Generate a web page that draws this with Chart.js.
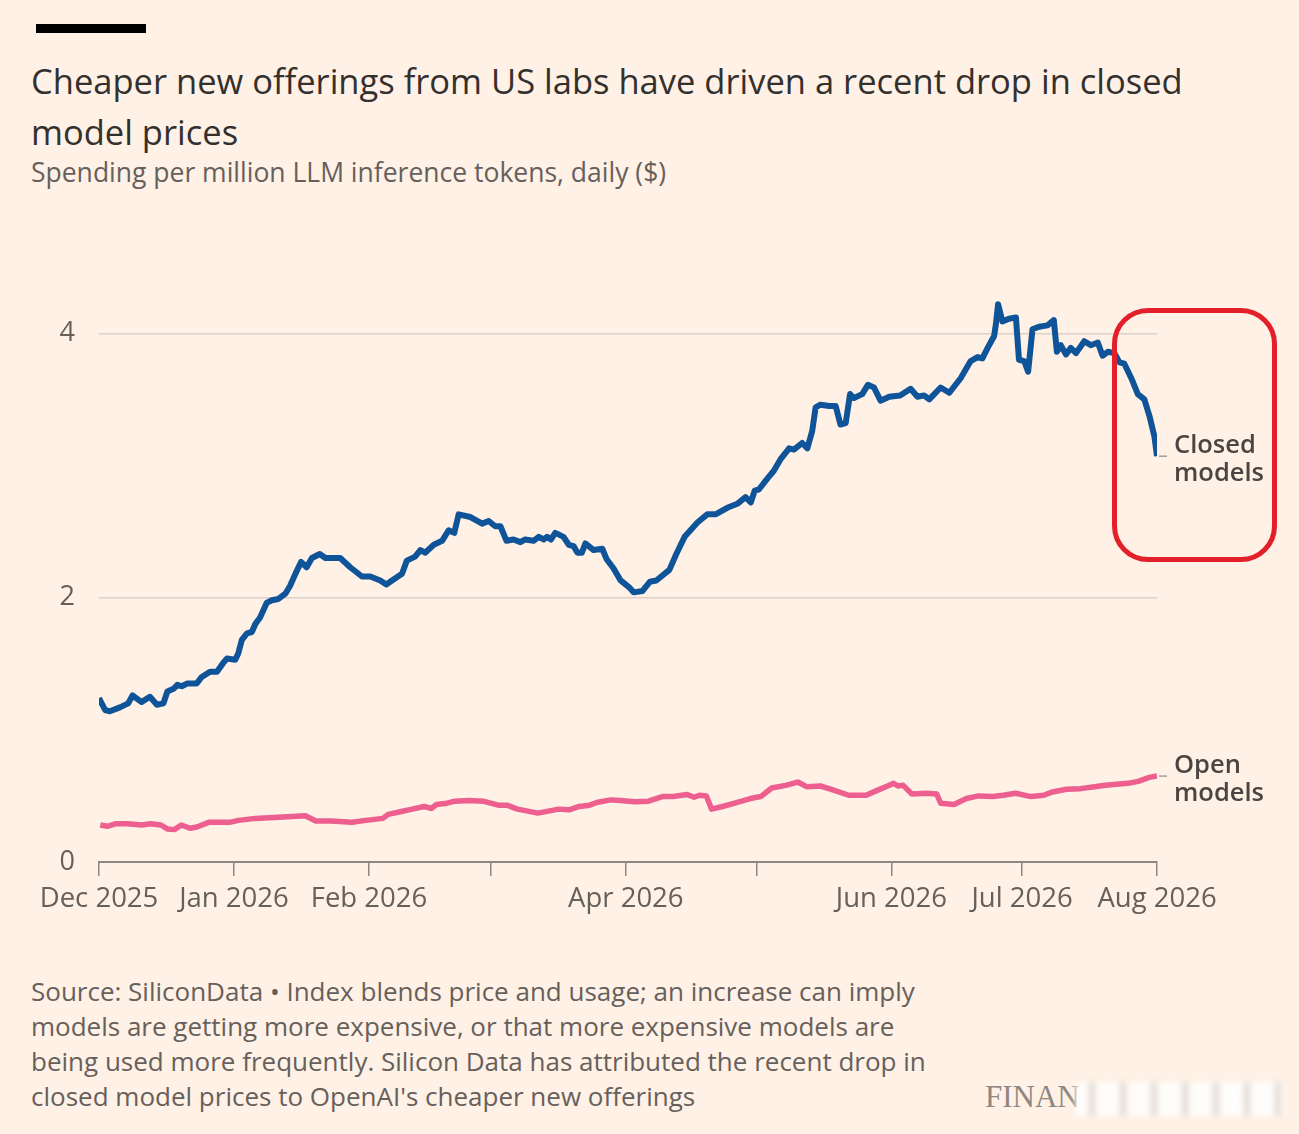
<!DOCTYPE html>
<html>
<head>
<meta charset="utf-8">
<script src="https://cdn.jsdelivr.net/npm/chart.js@4.4.1/dist/chart.umd.min.js"></script>
<style>
  html, body { margin: 0; padding: 0; background: #fff1e5; }
  body { width: 1299px; height: 1134px; position: relative; overflow: hidden; font-family: 'Open Sans', sans-serif; }
  .bar { position: absolute; left: 36px; top: 24px; width: 110px; height: 9px; background: #000; }
  .title { position: absolute; left: 31px; top: 55px; width: 1260px; font-size: 34.5px; line-height: 51px; color: #33302e; white-space: nowrap; }
  .subtitle { position: absolute; left: 31px; top: 157px; font-size: 26.5px; line-height: 30px; color: #66605c; white-space: nowrap; }
  .chart-box { position: absolute; left: 0; top: 227px; width: 1299px; height: 713px; }
  .footer { position: absolute; left: 31px; top: 974px; font-size: 26px; line-height: 35px; color: #66605c; white-space: nowrap; }
  .redbox { position: absolute; left: 1112px; top: 308px; width: 165px; height: 254px; border: 5px solid #e3202a; border-radius: 36px; box-sizing: border-box; }
  .logo { position: absolute; left: 985px; top: 1079px; font-family: 'Liberation Serif', 'DejaVu Serif', serif; font-size: 31px; color: #8f8782; }
  .smudge { position: absolute; left: 1075px; top: 1082px; width: 210px; height: 34px;
    background: repeating-linear-gradient(90deg, rgba(255,255,255,0.85) 0 14px, rgba(200,194,190,0.55) 14px 20px, rgba(255,255,255,0.8) 20px 31px);
    filter: blur(3px); }
</style>
</head>
<body>
<div class="bar"></div>
<div class="title">Cheaper new offerings from US labs have driven a recent drop in closed<br>model prices</div>
<div class="subtitle">Spending per million LLM inference tokens, daily ($)</div>
<div class="chart-box"><canvas id="priceChart"></canvas></div>
<div class="redbox"></div>
<div class="footer">Source: SiliconData &bull; Index blends price and usage; an increase can imply<br>models are getting more expensive, or that more expensive models are<br>being used more frequently. Silicon Data has attributed the recent drop in<br>closed model prices to OpenAI's cheaper new offerings</div>
<div class="logo">FINAN</div>
<div class="smudge"></div>

<script>
// Days counted from 1 Dec 2025
const monthTickDays = [0, 31, 62, 90, 121, 151, 182, 212, 243];
const monthTickLabels = ['Dec 2025', 'Jan 2026', 'Feb 2026', '', 'Apr 2026', '', 'Jun 2026', 'Jul 2026', 'Aug 2026'];
const yTickValues = [0, 2, 4];

// [day, $ per million tokens]
const closedPoints = [
  [0,1.24],[1.4,1.15],[2.5,1.14],[4.8,1.17],[6.7,1.20],[7.7,1.26],[9.8,1.21],[11.7,1.25],[13.3,1.19],[14.8,1.20],
  [15.7,1.29],[17.1,1.31],[18,1.34],[19,1.33],[20.2,1.35],[22.4,1.35],[23.6,1.40],[25.5,1.44],[27.1,1.44],[28.6,1.51],
  [29.4,1.54],[31.3,1.53],[32,1.58],[32.8,1.68],[34,1.73],[35.1,1.74],[35.9,1.80],[37,1.85],[38.5,1.96],[39.7,1.98],
  [41.2,1.99],[42.8,2.03],[43.9,2.09],[45.1,2.18],[46.4,2.27],[47.7,2.23],[48.9,2.30],[50.7,2.33],[52,2.30],[55.4,2.30],
  [57.7,2.23],[60.4,2.16],[62.3,2.16],[64.6,2.13],[66,2.10],[67.3,2.13],[69.6,2.18],[70.7,2.28],[72.6,2.31],[73.8,2.36],
  [74.9,2.34],[76.9,2.40],[78.8,2.43],[80.3,2.51],[81.6,2.49],[82.6,2.63],[85.3,2.61],[88,2.56],[89.5,2.58],[91,2.54],
  [92.2,2.54],[93.6,2.43],[95.2,2.44],[96.8,2.42],[97.9,2.44],[99.8,2.43],[101,2.46],[102.1,2.44],[102.9,2.46],[103.8,2.44],
  [104.8,2.49],[106.7,2.46],[107.9,2.40],[109,2.39],[109.9,2.34],[110.9,2.34],[111.7,2.41],[113.6,2.36],[115.6,2.37],[116.6,2.29],
  [118.2,2.22],[119.8,2.13],[121.7,2.08],[122.8,2.04],[124.8,2.05],[126.5,2.12],[128,2.13],[131,2.21],[132.6,2.33],[134.5,2.46],
  [137.5,2.57],[139.7,2.63],[141.6,2.63],[144.3,2.68],[146.6,2.71],[148.5,2.76],[149.7,2.72],[150.6,2.81],[151.6,2.82],[153.5,2.90],
  [155,2.96],[156.6,3.05],[158.5,3.13],[159.6,3.12],[161.5,3.17],[162.7,3.13],[163.8,3.26],[164.6,3.44],[165.7,3.46],[167.7,3.45],
  [169.2,3.45],[170.3,3.31],[171.5,3.32],[172.5,3.54],[173.4,3.51],[175.3,3.54],[176.6,3.61],[178,3.59],[179.5,3.49],[181.5,3.52],
  [184,3.53],[186.4,3.58],[188,3.52],[189.5,3.53],[190.7,3.50],[193.3,3.59],[195.3,3.55],[197.9,3.66],[200.2,3.79],[201.8,3.82],
  [202.9,3.81],[204.1,3.89],[205.6,3.98],[206,4.07],[206.5,4.22],[207.5,4.09],[209,4.11],[210.6,4.12],[211.3,3.80],[212.5,3.79],
  [213.4,3.71],[214.4,4.03],[215.9,4.05],[217.9,4.06],[219.3,4.10],[220,3.86],[220.9,3.91],[222.1,3.84],[223.2,3.89],[224.4,3.85],
  [226.3,3.94],[227.8,3.91],[229.4,3.93],[230.5,3.83],[231.7,3.86],[233.2,3.85],[234.4,3.78],[235.5,3.77],[237.1,3.66],[238.6,3.54],
  [240.1,3.50],[241.3,3.37],[242.4,3.22],[243,3.07]
];

const openPoints = [
  [0.3,0.28],[1.9,0.27],[3.9,0.29],[6.6,0.29],[9.8,0.28],[11.8,0.29],[14.2,0.28],[15.7,0.25],[17.3,0.245],[18.9,0.28],
  [20.9,0.255],[22.5,0.265],[25.2,0.30],[27.6,0.30],[30,0.30],[32,0.315],[35.9,0.33],[39.1,0.335],[42.3,0.34],[47.4,0.35],
  [49.8,0.31],[53.3,0.31],[58.1,0.30],[61.3,0.315],[65.2,0.33],[66.4,0.36],[69.2,0.38],[71.9,0.40],[74.7,0.42],[76.3,0.405],
  [77.5,0.435],[79.9,0.445],[81.8,0.46],[85,0.465],[88.2,0.46],[91.7,0.43],[93.7,0.43],[96.1,0.40],[98.5,0.385],[100.8,0.37],
  [103.2,0.385],[105.6,0.40],[108,0.395],[110.3,0.42],[112.7,0.43],[114.3,0.45],[117.5,0.47],[119.8,0.465],[123,0.455],[126.2,0.46],
  [129.4,0.495],[131.9,0.495],[135.1,0.51],[136.7,0.49],[137.9,0.505],[139.5,0.50],[140.7,0.40],[143.2,0.42],[146.4,0.45],[149.6,0.48],
  [152,0.495],[154.5,0.56],[157.7,0.58],[160.5,0.605],[162.5,0.57],[165.7,0.575],[168.2,0.55],[172.2,0.505],[176.2,0.505],[178.6,0.54],
  [181.1,0.575],[182.5,0.595],[183.5,0.575],[184.7,0.58],[186.7,0.515],[190,0.52],[192.4,0.515],[193.3,0.445],[196.4,0.435],[199.2,0.48],
  [202,0.50],[205.3,0.495],[207.7,0.505],[210.5,0.52],[214.1,0.495],[217,0.505],[219,0.53],[222.2,0.55],[225.4,0.555],[228.7,0.57],
  [231.1,0.58],[234.3,0.59],[236.3,0.595],[238.7,0.61],[241.2,0.64],[243,0.65]
];

const seriesNames = [['Closed', 'models'], ['Open', 'models']];

const toXY = pts => pts.map(p => ({ x: p[0], y: p[1] }));

// Etiquetas no fim das linhas, com o pequeno traço cinzento
const endLabels = {
  id: 'endLabels',
  afterDatasetsDraw(chart) {
    const ctx = chart.ctx;
    ctx.save();
    chart.data.datasets.forEach((ds, i) => {
      const meta = chart.getDatasetMeta(i);
      const last = meta.data[meta.data.length - 1];
      if (!last) return;
      ctx.strokeStyle = '#a59d97';
      ctx.lineWidth = 1.5;
      ctx.beginPath();
      ctx.moveTo(last.x + 2, last.y);
      ctx.lineTo(last.x + 10, last.y);
      ctx.stroke();
      ctx.fillStyle = '#4a4542';
      ctx.font = '600 25.5px "Open Sans"';
      ctx.textAlign = 'left';
      ctx.textBaseline = 'alphabetic';
      ctx.fillText(seriesNames[i][0], last.x + 17, last.y - 3);
      ctx.fillText(seriesNames[i][1], last.x + 17, last.y + 25);
    });
    ctx.restore();
  }
};

new Chart(document.getElementById('priceChart'), {
  type: 'line',
  data: {
    datasets: [
      {
        label: 'Closed models',
        data: toXY(closedPoints),
        borderColor: '#0f5499',
        borderWidth: 6,
        pointRadius: 0,
        tension: 0,
        borderJoinStyle: 'round',
        borderCapStyle: 'butt'
      },
      {
        label: 'Open models',
        data: toXY(openPoints),
        borderColor: '#ec5f8e',
        borderWidth: 5.5,
        pointRadius: 0,
        tension: 0,
        borderJoinStyle: 'round',
        borderCapStyle: 'butt'
      }
    ]
  },
  options: {
    responsive: true,
    maintainAspectRatio: false,
    animation: false,
    layout: { padding: { top: 13, right: 142, left: 0, bottom: 0 } },
    plugins: {
      legend: { display: false },
      tooltip: { enabled: false }
    },
    scales: {
      x: {
        type: 'linear',
        min: 0,
        max: 243,
        afterBuildTicks: scale => { scale.ticks = monthTickDays.map(v => ({ value: v })); },
        afterFit: scale => { scale.height = 78; },
        grid: { drawOnChartArea: false, tickLength: 14, color: '#8e8680', lineWidth: 1.5 },
        border: { display: true, color: '#8e8680', width: 2 },
        ticks: {
          autoSkip: false,
          maxRotation: 0,
          padding: 7,
          color: '#66605c',
          font: { family: 'Open Sans', size: 27.5 },
          callback: (value, index) => monthTickLabels[index]
        }
      },
      y: {
        min: 0,
        max: 4.5,
        afterBuildTicks: scale => { scale.ticks = yTickValues.map(v => ({ value: v })); },
        afterFit: scale => { scale.width = 99; },
        grid: {
          drawTicks: false,
          color: ctx => ctx.tick && ctx.tick.value === 0 ? 'rgba(0,0,0,0)' : '#dcd2c9',
          lineWidth: 1.5
        },
        border: { display: false },
        ticks: {
          padding: 24,
          color: '#66605c',
          font: { family: 'Open Sans', size: 27 }
        }
      }
    }
  },
  plugins: [endLabels]
});
</script>
</body>
</html>
